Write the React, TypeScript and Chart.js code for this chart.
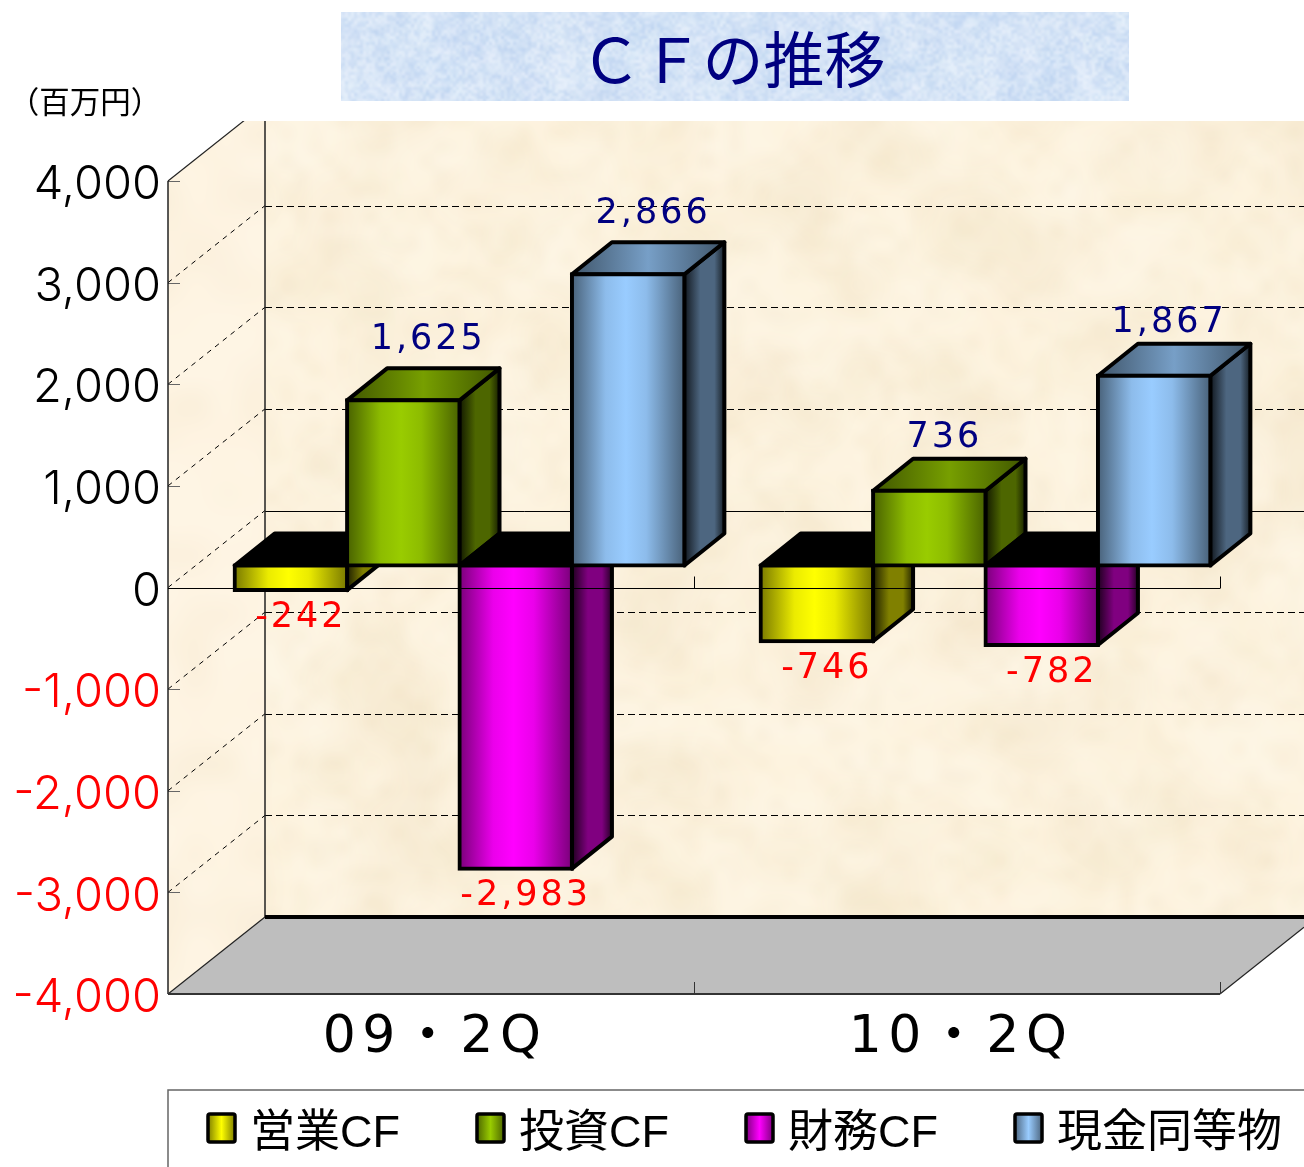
import React, { useEffect, useRef } from "react";
import { Chart, registerables } from "chart.js";

Chart.register(...registerables);

const categories = ["09・2Q", "10・2Q"];
const seriesNames = ["営業CF", "投資CF", "財務CF", "現金同等物"];
const operatingCF = [-242, -746];
const investingCF = [1625, 736];
const financingCF = [-2983, -782];
const cashEquivalents = [2866, 1867];
const seriesValues = [operatingCF, investingCF, financingCF, cashEquivalents];
const yTicks = [-4000, -3000, -2000, -1000, 0, 1000, 2000, 3000, 4000];

const titleText = "ＣＦの推移";
const unitText = "（百万円）";

// styling
const seriesRGB = [
  [255, 255, 0],
  [153, 204, 0],
  [255, 0, 255],
  [153, 204, 255],
];
const W = 1304;
const H = 1167;
const BAR_SHIFT = { x: 28.5, y: -22 };
const BAR_DEPTH = { x: 40, y: -32 };
const WALL_DEPTH = { x: 97, y: -77 };
const CLIP_TOP = 121;
const POS_LABEL_DX = [25, 15];
const POS_LABEL_DY = [28, 21];
const CJK = '"Noto Sans CJK JP", sans-serif';

const shade = (c: number[], k: number) =>
  `rgb(${Math.round(c[0] * k)},${Math.round(c[1] * k)},${Math.round(c[2] * k)})`;

function hash(x: number, y: number, s: number) {
  const v = Math.sin(x * 12.9898 + y * 78.233 + s) * 43758.5453;
  return v - Math.floor(v);
}

function texture(
  w: number,
  h: number,
  base: number[],
  dark: number[],
  light: number[],
  layers: { cell: number; amp: number }[]
) {
  const out = document.createElement("canvas");
  out.width = w;
  out.height = h;
  const o = out.getContext("2d")!;
  o.fillStyle = `rgb(${base.join(",")})`;
  o.fillRect(0, 0, w, h);
  layers.forEach((l, li) => {
    const cw = Math.ceil(w / l.cell) + 1;
    const ch = Math.ceil(h / l.cell) + 1;
    const small = document.createElement("canvas");
    small.width = cw;
    small.height = ch;
    const s = small.getContext("2d")!;
    const img = s.createImageData(cw, ch);
    for (let y = 0; y < ch; y++) {
      for (let x = 0; x < cw; x++) {
        const n = hash(x, y, li * 7 + 1);
        const i = (x + y * cw) * 4;
        const col = n < 0.5 ? dark : light;
        img.data[i] = col[0];
        img.data[i + 1] = col[1];
        img.data[i + 2] = col[2];
        img.data[i + 3] = Math.abs(n - 0.5) * 2 * l.amp * 255;
      }
    }
    s.putImageData(img, 0, 0);
    o.imageSmoothingEnabled = true;
    o.imageSmoothingQuality = "high";
    o.drawImage(small, 0, 0, cw * l.cell, ch * l.cell);
  });
  return out;
}

function line(ctx: CanvasRenderingContext2D, x1: number, y1: number, x2: number, y2: number) {
  ctx.beginPath();
  ctx.moveTo(x1, y1);
  ctx.lineTo(x2, y2);
  ctx.stroke();
}

function poly(ctx: CanvasRenderingContext2D, pts: number[][]) {
  ctx.beginPath();
  pts.forEach((p, i) => (i ? ctx.lineTo(p[0], p[1]) : ctx.moveTo(p[0], p[1])));
  ctx.closePath();
}

function hGrad(ctx: CanvasRenderingContext2D, x0: number, x1: number, stops: [number, string][]) {
  const g = ctx.createLinearGradient(x0, 0, x1, 0);
  stops.forEach(([p, c]) => g.addColorStop(p, c));
  return g;
}

const snap = (v: number) => Math.round(v) + 0.5;

let wallTexture: HTMLCanvasElement | null = null;
let sideTexture: HTMLCanvasElement | null = null;
let bannerTexture: HTMLCanvasElement | null = null;

const scenePlugin = {
  id: "cf3d",
  beforeDraw(chart: any) {
    const { ctx, chartArea: a, scales } = chart;
    const yS = scales.y;
    const xS = scales.x;
    if (!xS.__spaced) {
      xS.__spaced = true;
      const ox = xS.drawLabels.bind(xS);
      xS.drawLabels = (area: any) => {
        ctx.save();
        (ctx as any).letterSpacing = "6.5px";
        ox(area);
        ctx.restore();
      };
    }
    if (!wallTexture) {
      wallTexture = texture(W, H, [253, 243, 222], [214, 190, 145], [255, 255, 255], [
        { cell: 14, amp: 0.09 },
        { cell: 44, amp: 0.16 },
      ]);
      sideTexture = texture(W, H, [254, 244, 226], [214, 190, 145], [255, 255, 255], [{ cell: 30, amp: 0.1 }]);
      bannerTexture = texture(W, H, [214, 229, 246], [172, 198, 236], [246, 249, 255], [
        { cell: 3, amp: 0.36 },
        { cell: 9, amp: 0.3 },
        { cell: 26, amp: 0.12 },
      ]);
    }

    ctx.save();
    // title banner
    ctx.drawImage(bannerTexture!, 341, 12, 788, 89, 341, 12, 788, 89);
    ctx.fillStyle = "#000080";
    ctx.font = `61px ${CJK}`;
    ctx.textAlign = "center";
    ctx.textBaseline = "middle";
    ctx.fillText(titleText, 733, 60);
    ctx.fillStyle = "#000";
    ctx.font = `30.5px ${CJK}`;
    ctx.fillText(unitText, 85, 101);

    const bx = a.left + WALL_DEPTH.x;
    const fb = a.bottom + WALL_DEPTH.y;

    ctx.beginPath();
    ctx.rect(0, CLIP_TOP, W, H - CLIP_TOP);
    ctx.clip();

    // back wall
    ctx.drawImage(wallTexture!, bx, CLIP_TOP, W - bx, fb - CLIP_TOP, bx, CLIP_TOP, W - bx, fb - CLIP_TOP);

    // side wall
    ctx.save();
    poly(ctx, [
      [a.left, a.top],
      [bx, a.top + WALL_DEPTH.y],
      [bx, fb],
      [a.left, a.bottom],
    ]);
    ctx.clip();
    ctx.drawImage(sideTexture!, 0, 0);
    ctx.restore();

    // floor
    const rightDrop = ((W - a.right) * WALL_DEPTH.y) / WALL_DEPTH.x;
    ctx.fillStyle = "#bebebe";
    poly(ctx, [
      [a.left, a.bottom],
      [a.right, a.bottom],
      [W, a.bottom + rightDrop],
      [W, fb],
      [bx, fb],
    ]);
    ctx.fill();

    // grid
    ctx.strokeStyle = "#000";
    ctx.lineWidth = 1;
    yTicks.forEach((v) => {
      const y = yS.getPixelForValue(v);
      if (v !== -4000 && v !== 4000) {
        ctx.setLineDash([5, 5]);
        line(ctx, a.left, y, bx, y + WALL_DEPTH.y);
        ctx.setLineDash(v === 0 ? [] : [7, 4]);
        const by = snap(y + WALL_DEPTH.y);
        line(ctx, bx, by, W, by);
        ctx.setLineDash([]);
      }
      ctx.strokeStyle = "#666";
      line(ctx, a.left, snap(y), a.left + 12, snap(y));
      ctx.strokeStyle = "#000";
    });

    // wall edges
    ctx.strokeStyle = "#222";
    ctx.lineWidth = 1.5;
    line(ctx, bx, CLIP_TOP, bx, fb);
    line(ctx, a.left, a.top, a.left, a.bottom);
    ctx.lineWidth = 1.2;
    line(ctx, a.left, a.top, bx, a.top + WALL_DEPTH.y);
    line(ctx, a.left, a.bottom, bx, fb);
    line(ctx, a.right, a.bottom, W, a.bottom + rightDrop);
    ctx.strokeStyle = "#000";
    ctx.lineWidth = 4;
    line(ctx, bx, fb, W, fb);
    ctx.strokeStyle = "#333";
    ctx.lineWidth = 2;
    line(ctx, a.left, a.bottom, a.right, a.bottom);
    ctx.lineWidth = 1;
    [1, 2].forEach((i) => {
      const x = snap(a.left + (i * (a.right - a.left)) / categories.length);
      line(ctx, x, a.bottom - 12, x, a.bottom);
    });
    ctx.restore();
  },
  beforeDatasetsDraw(chart: any) {
    const { ctx } = chart;
    seriesValues.forEach((values, si) => {
      const meta = chart.getDatasetMeta(si);
      const c = seriesRGB[si];
      ctx.save();
      ctx.lineWidth = 4;
      ctx.strokeStyle = "#000";
      ctx.lineJoin = "round";
      meta.data.forEach((el: any, ci: number) => {
        const left = el.x - el.width / 2;
        const right = el.x + el.width / 2;
        const dx = BAR_SHIFT.x;
        const dy = BAR_SHIFT.y;
        const top = Math.min(el.y, el.base) + dy;
        const bottom = Math.max(el.y, el.base) + dy;
        const l = left + dx;
        const r = right + dx;
        // side
        poly(ctx, [
          [r, top],
          [r + BAR_DEPTH.x, top + BAR_DEPTH.y],
          [r + BAR_DEPTH.x, bottom + BAR_DEPTH.y],
          [r, bottom],
        ]);
        ctx.fillStyle = hGrad(ctx, r, r + BAR_DEPTH.x, [
          [0, shade(c, 0.12)],
          [0.4, shade(c, 0.5)],
          [0.75, shade(c, 0.5)],
          [1, shade(c, 0.15)],
        ]);
        ctx.fill();
        ctx.stroke();
        // top
        poly(ctx, [
          [l, top],
          [r, top],
          [r + BAR_DEPTH.x, top + BAR_DEPTH.y],
          [l + BAR_DEPTH.x, top + BAR_DEPTH.y],
        ]);
        if (values[ci] < 0) {
          ctx.fillStyle = "#000";
        } else {
          ctx.fillStyle = hGrad(ctx, l, r + BAR_DEPTH.x, [
            [0, shade(c, 0.42)],
            [0.5, shade(c, 0.78)],
            [1, shade(c, 0.42)],
          ]);
        }
        ctx.fill();
        ctx.stroke();
        // front face: the library's own bar, with a gradient fill
        el.options = Object.assign({}, el.options, {
          backgroundColor: hGrad(ctx, left, right, [
            [0, shade(c, 0.48)],
            [0.3, shade(c, 0.92)],
            [0.48, shade(c, 1)],
            [0.66, shade(c, 0.92)],
            [1, shade(c, 0.48)],
          ]),
        });
      });
      ctx.translate(BAR_SHIFT.x, BAR_SHIFT.y);
      meta.controller.draw();
      ctx.restore();
    });
    return false;
  },
  afterDraw(chart: any) {
    const { ctx, chartArea: a, scales } = chart;
    const y0 = snap(scales.y.getPixelForValue(0));
    ctx.save();
    // zero axis above the bars
    ctx.strokeStyle = "#000";
    ctx.lineWidth = 1;
    line(ctx, a.left, y0, a.right, y0);
    [1, 2].forEach((i) => {
      const x = snap(a.left + (i * (a.right - a.left)) / categories.length);
      line(ctx, x, y0 - 12, x, y0);
    });
    // value labels
    ctx.textAlign = "center";
    ctx.textBaseline = "middle";
    ctx.font = '35px "DejaVu Sans", sans-serif';
    (ctx as any).letterSpacing = "3px";
    seriesValues.forEach((values, si) => {
      const meta = chart.getDatasetMeta(si);
      meta.data.forEach((el: any, ci: number) => {
        const v = values[ci];
        const text = v.toLocaleString("en-US");
        const cx = el.x + BAR_SHIFT.x;
        if (v >= 0) {
          ctx.fillStyle = "#000080";
          ctx.fillText(text, cx + POS_LABEL_DX[ci], el.y + BAR_SHIFT.y + BAR_DEPTH.y - POS_LABEL_DY[ci]);
        } else {
          ctx.fillStyle = "#ff0000";
          ctx.fillText(text, cx + 10, el.y + BAR_SHIFT.y + 27.5);
        }
      });
    });
    (ctx as any).letterSpacing = "0px";

    // legend
    const lx = a.left;
    const ly = 1090;
    ctx.strokeStyle = "#666";
    ctx.lineWidth = 1.5;
    ctx.beginPath();
    ctx.moveTo(lx, H);
    ctx.lineTo(lx, ly);
    ctx.lineTo(W, ly);
    ctx.stroke();
    ctx.textAlign = "left";
    ctx.font = `45px "Liberation Sans", ${CJK}`;
    seriesNames.forEach((name, i) => {
      const sx = 208 + i * 269;
      const c = seriesRGB[i];
      ctx.beginPath();
      ctx.roundRect(sx, 1114, 27, 28, 2);
      ctx.fillStyle = hGrad(ctx, sx, sx + 27, [
        [0, shade(c, 0.5)],
        [0.5, shade(c, 1)],
        [1, shade(c, 0.5)],
      ]);
      ctx.fill();
      ctx.strokeStyle = "#000";
      ctx.lineWidth = 3.5;
      ctx.stroke();
      ctx.fillStyle = "#000";
      ctx.fillText(name, sx + 42, 1135);
    });
    ctx.restore();
  },
};

export default function App() {
  const ref = useRef<HTMLCanvasElement>(null);
  useEffect(() => {
    const chart = new Chart(ref.current!, {
      type: "bar",
      data: {
        labels: categories,
        datasets: seriesNames.map((name, i) => ({
          label: name,
          data: seriesValues[i],
          backgroundColor: shade(seriesRGB[i], 1),
          borderColor: "#000",
          borderWidth: 4,
          borderSkipped: false,
          inflateAmount: 2,
          barPercentage: 1,
          categoryPercentage: 0.855,
        })),
      },
      plugins: [scenePlugin as any],
      options: {
        responsive: false,
        animation: false,
        layout: { padding: { top: 181, right: 84, left: 0, bottom: 0 } },
        plugins: { legend: { display: false }, tooltip: { enabled: false }, title: { display: false } },
        scales: {
          x: {
            grid: { display: false, drawTicks: false },
            border: { display: false },
            ticks: {
              color: "#000",
              padding: 13,
              labelOffset: 4,
              maxRotation: 0,
              font: { family: '"DejaVu Sans", "Noto Sans CJK JP", sans-serif', size: 52 },
            },
            afterFit: (s: any) => {
              s.height = 173;
            },
          },
          y: {
            min: -4000,
            max: 4000,
            grid: { display: false, drawTicks: false },
            border: { display: false },
            afterBuildTicks: (s: any) => {
              s.ticks = yTicks.map((value) => ({ value }));
            },
            ticks: {
              padding: 7,
              labelOffset: 4,
              color: (c: any) => (c.tick.value < 0 ? "#ff0000" : "#000000"),
              font: { family: '"Inter", sans-serif', size: 47, weight: "300" },
              callback: (v: any) => Number(v).toLocaleString("en-US"),
            },
            afterFit: (s: any) => {
              s.width = 168;
            },
          },
        },
      } as any,
    });
    return () => chart.destroy();
  }, []);
  return (
    <canvas
      ref={ref}
      width={W}
      height={H}
      style={{ position: "absolute", left: 0, top: 0, display: "block", width: W, height: H }}
    />
  );
}
